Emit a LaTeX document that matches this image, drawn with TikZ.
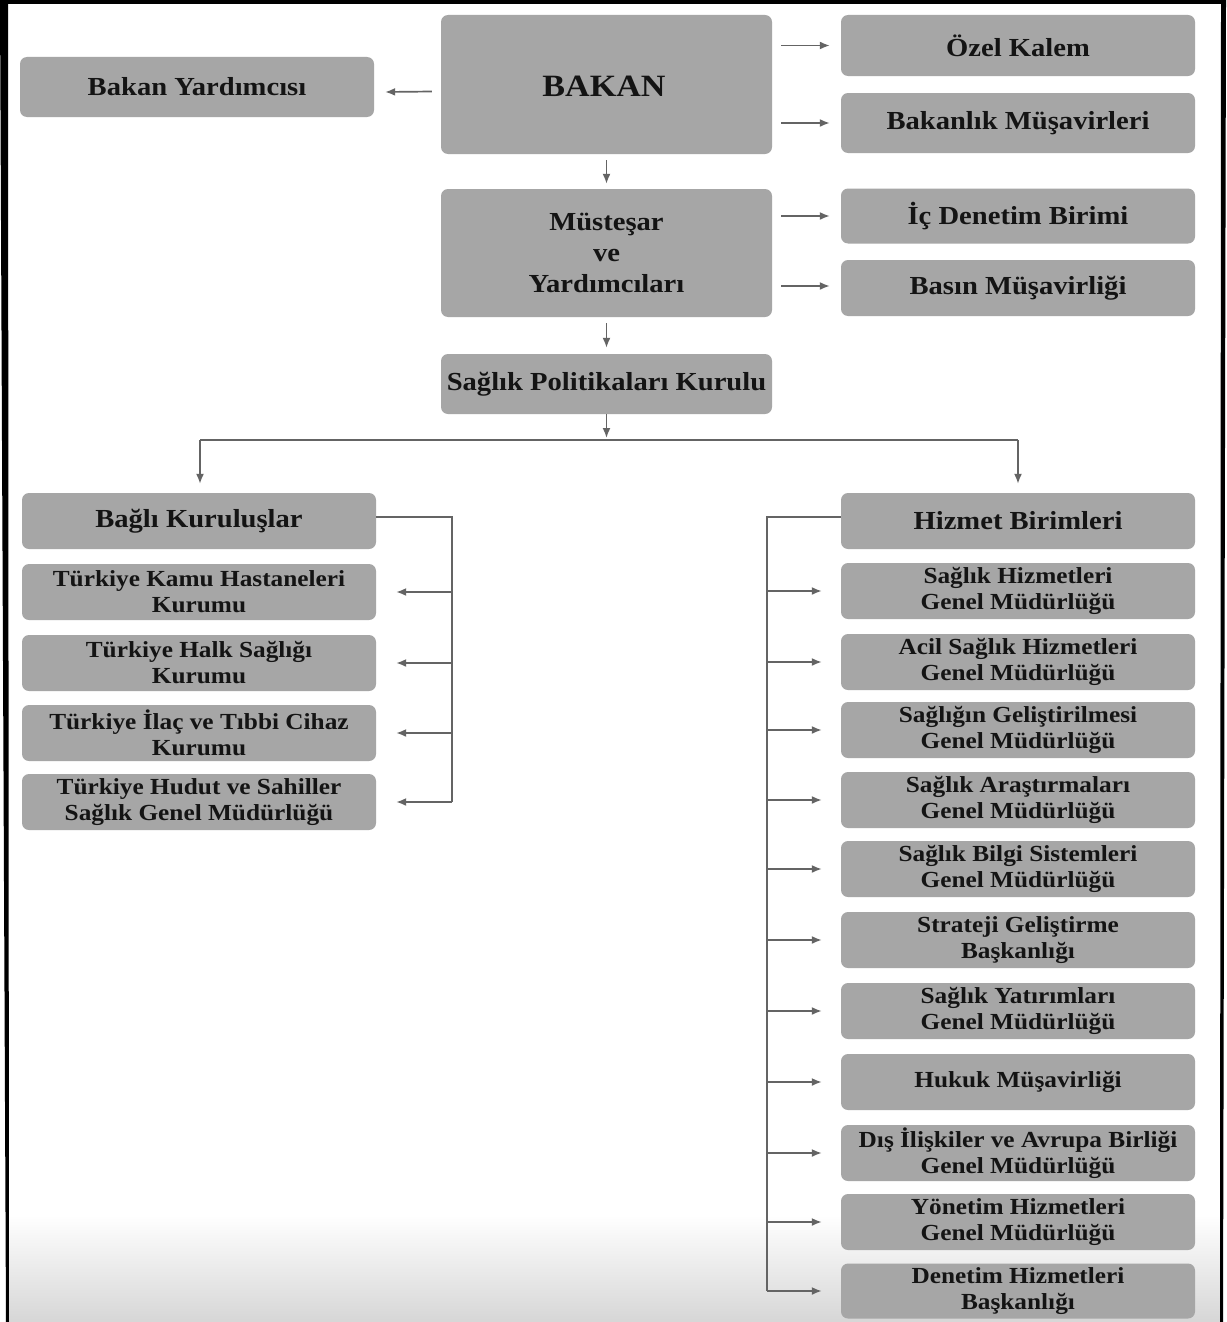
\documentclass[tikz,border=0pt]{standalone}
\usepackage{fontspec}
\setmainfont{Liberation Serif}[FakeStretch=1.1]
\usetikzlibrary{arrows.meta,calc}
\definecolor{boxgray}{RGB}{166,166,166}
\definecolor{linegray}{RGB}{100,100,100}
\definecolor{txt}{RGB}{20,20,20}
\tikzset{
  box/.style={fill=boxgray, rounded corners=7pt, inner sep=0pt, align=center, text=txt,
    font=\bfseries\fontsize{26}{31}\selectfont},
  bigbox/.style={box, font=\bfseries\fontsize{31}{36}\selectfont},
  sbox/.style={box, font=\bfseries\fontsize{23}{26}\selectfont},
  wide/.style={minimum width=354pt},
  mid/.style={minimum width=331pt},
  arr/.style={draw=linegray, line width=1.7pt, -{Latex[length=10pt,width=8pt]}},
  ln/.style={draw=linegray, line width=1.7pt},
}
\begin{document}
\begin{tikzpicture}[x=1pt,y=-1pt]
\fill[white] (0,0) rectangle (1226,1322);
\useasboundingbox (0,0) rectangle (1226,1322);

% bottom screen gradient (behind the boxes)
\shade[top color=white, bottom color=black!16] (9,1215) rectangle (1220,1322);

% top level
\node[box, wide, minimum height=60pt] (by) at (197,87) {Bakan Yardımcısı};
\node[mid, minimum height=139pt, fill=boxgray, rounded corners=7pt] (bakan) at (606.5,84.5) {};
\node[bigbox] (bakantxt) at (604,86) {BAKAN};
\node[box, wide, minimum height=61pt] (ozel) at (1018,45.5) {Özel Kalem};
\node[box, wide, minimum height=60pt] (bmus) at (1018,123) {Bakanlık Müşavirleri};
\node[box, mid, minimum height=128pt] (must) at (606.5,253) {Müsteşar\\ve\\Yardımcıları};
\node[box, wide, minimum height=55pt] (icd) at (1018,216) {İç Denetim Birimi};
\node[box, wide, minimum height=56pt] (basin) at (1018,288) {Basın Müşavirliği};
\node[box, mid, minimum height=60pt] (spk) at (606.5,384) {Sağlık Politikaları Kurulu};

% left column
\node[box, wide, minimum height=56pt] (bk) at (199,521) {Bağlı Kuruluşlar};
\node[sbox, wide, minimum height=56pt] (L1) at (199,592) {Türkiye Kamu Hastaneleri\\Kurumu};
\node[sbox, wide, minimum height=56pt] (L2) at (199,663) {Türkiye Halk Sağlığı\\Kurumu};
\node[sbox, wide, minimum height=56pt] (L3) at (199,733) {Türkiye İlaç ve Tıbbi Cihaz\\Kurumu};
\node[sbox, wide, minimum height=56pt] (L4) at (199,802) {Türkiye Hudut ve Sahiller\\Sağlık Genel Müdürlüğü};

% right column
\node[box, wide, minimum height=56pt] (hb) at (1018,521) {Hizmet Birimleri};
\node[sbox, wide, minimum height=56pt] (R1) at (1018,591) {Sağlık Hizmetleri\\Genel Müdürlüğü};
\node[sbox, wide, minimum height=56pt] (R2) at (1018,662) {Acil Sağlık Hizmetleri\\Genel Müdürlüğü};
\node[sbox, wide, minimum height=56pt] (R3) at (1018,730) {Sağlığın Geliştirilmesi\\Genel Müdürlüğü};
\node[sbox, wide, minimum height=56pt] (R4) at (1018,800) {Sağlık Araştırmaları\\Genel Müdürlüğü};
\node[sbox, wide, minimum height=56pt] (R5) at (1018,869) {Sağlık Bilgi Sistemleri\\Genel Müdürlüğü};
\node[sbox, wide, minimum height=56pt] (R6) at (1018,940) {Strateji Geliştirme\\Başkanlığı};
\node[sbox, wide, minimum height=56pt] (R7) at (1018,1011) {Sağlık Yatırımları\\Genel Müdürlüğü};
\node[sbox, wide, minimum height=56pt] (R8) at (1018,1082) {Hukuk Müşavirliği};
\node[sbox, wide, minimum height=56pt] (R9) at (1018,1153) {Dış İlişkiler ve Avrupa Birliği\\Genel Müdürlüğü};
\node[sbox, wide, minimum height=56pt] (R10) at (1018,1222) {Yönetim Hizmetleri\\Genel Müdürlüğü};
\node[sbox, wide, minimum height=55pt] (R11) at (1018,1291) {Denetim Hizmetleri\\Başkanlığı};

% top connectors
\draw[arr] ($(bakan.west)+(-9,7)$) -- ($(by.east)+(11,5)$);
\draw[arr] ($(bakan.east |- ozel.west)+(9,0)$) -- ($(ozel.west)+(-11,0)$);
\draw[arr] ($(bakan.east |- bmus.west)+(9,0)$) -- ($(bmus.west)+(-11,0)$);
\draw[arr] ($(must.east |- icd.west)+(9,0)$) -- ($(icd.west)+(-11,0)$);
\draw[arr] ($(must.east |- basin.west)+(9,-2)$) -- ($(basin.west)+(-11,-2)$);
\draw[arr] ($(bakan.south)+(0,6)$) -- ($(must.north)+(0,-5)$);
\draw[arr] ($(must.south)+(0,6)$) -- ($(spk.north)+(0,-6)$);

% split
\coordinate (hl) at (606.5,440);
\coordinate (hlL) at (200,440);
\coordinate (hlR) at (1018,440);
\draw[arr] (spk.south) -- ($(hl)+(0,-2)$);
\draw[ln] (hlL) -- (hlR);
\draw[arr] (hlL) -- ($(bk.north -| hlL)+(0,-9)$);
\draw[arr] (hlR) -- ($(hb.north)+(0,-9)$);

% left bracket
\coordinate (lb) at (452,517);
\draw[ln] (bk.east |- lb) -- (lb) -- (lb |- L4.east);
\foreach \n in {L1,L2,L3,L4}{
  \draw[arr] (lb |- \n.east) -- ($(\n.east)+(20,0)$);
}

% right bracket
\coordinate (rb) at (767,517);
\draw[ln] (hb.west |- rb) -- (rb) -- (rb |- R11.west);
\foreach \n in {R1,R2,R3,R4,R5,R6,R7,R8,R9,R10,R11}{
  \draw[arr] (rb |- \n.west) -- ($(\n.west)+(-19,0)$);
}

% frame
\fill[black] (0,0) -- (1226,0) -- (1226,4) -- (0,4) -- cycle;
\fill[black] (0,0) -- (8,0) -- (9,1322) -- (6,1322) -- cycle;
\fill[black] (1221,0) -- (1226,0) -- (1223,1322) -- (1220,1322) -- cycle;
\end{tikzpicture}
\end{document}
